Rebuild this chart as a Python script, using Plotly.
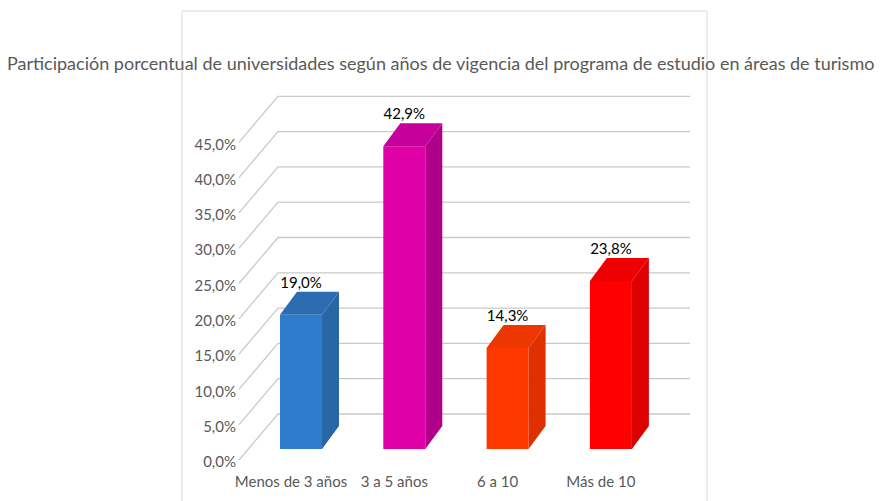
import plotly.graph_objects as go

# ---- data ----
categories = ["Menos de 3 años", "3 a 5 años", "6 a 10", "Más de 10"]
values = [19.0, 42.9, 14.3, 23.8]
tick_values = [0, 5, 10, 15, 20, 25, 30, 35, 40, 45]
front_colors = ["#2E7DCD", "#E000A8", "#FF3800", "#FF0000"]
side_colors = ["#2866A6", "#B0008A", "#DE3000", "#DC0000"]
top_colors = ["#2C6DB2", "#C6009A", "#EE3600", "#EE0000"]
title_text = ("Participación porcentual de universidades según años de vigencia "
              "del programa de estudio en áreas de turismo")

FONT = "Lato, sans-serif"

# ---- page geometry (px) ----
W, H = 880, 501
STEP_PX = 103.3      # px between category centres
PCT_PX = 7.06        # px per percentage point
X0_PX = 301          # centre of first bar
BASE_PX = 449        # bar base line
BAR_W = 42 / STEP_PX
DEPTH_X = 17 / STEP_PX
DEPTH_Y = 23 / PCT_PX
WALL_DY = (BASE_PX - 414) / PCT_PX   # back wall above bar plane
FRONT_DY = (BASE_PX - 460) / PCT_PX  # front axis below bar plane


def xpx(px):
    return (px - X0_PX) / STEP_PX


def pct_label(v):
    return f"{v:.1f}%".replace(".", ",")


x_range = [xpx(0), xpx(W)]
y_range = [-(H - BASE_PX) / PCT_PX, BASE_PX / PCT_PX]

fig = go.Figure()

# back wall grid with the slanted ticks joining the front axis
grid_shapes = []
for t in tick_values:
    grid_shapes.append(dict(
        type="path", xref="x", yref="y", layer="below",
        path=(f"M {xpx(239)},{t + FRONT_DY} L {xpx(278)},{t + WALL_DY} "
              f"L {xpx(690)},{t + WALL_DY}"),
        line=dict(color="#C9C9C9", width=1.3)))

# bar front faces
fig.add_trace(go.Bar(x=list(range(len(values))), y=values, width=BAR_W,
                     marker=dict(color=front_colors, line=dict(width=0)),
                     hoverinfo="skip", showlegend=False))

# side and top faces
for i, v in enumerate(values):
    x0, x1 = i - BAR_W / 2, i + BAR_W / 2
    fig.add_trace(go.Scatter(
        x=[x1, x1 + DEPTH_X, x1 + DEPTH_X, x1, x1],
        y=[0, DEPTH_Y, v + DEPTH_Y, v, 0],
        mode="lines", fill="toself", fillcolor=side_colors[i],
        line=dict(width=0, color=side_colors[i]),
        hoverinfo="skip", showlegend=False))
    fig.add_trace(go.Scatter(
        x=[x0, x0 + DEPTH_X, x1 + DEPTH_X, x1, x0],
        y=[v, v + DEPTH_Y, v + DEPTH_Y, v, v],
        mode="lines", fill="toself", fillcolor=top_colors[i],
        line=dict(width=0, color=top_colors[i]),
        hoverinfo="skip", showlegend=False))

# value labels
fig.add_trace(go.Scatter(
    x=list(range(len(values))), y=[v + 4.4 for v in values],
    text=[pct_label(v) for v in values],
    mode="text", textposition="middle center",
    textfont=dict(family=FONT, size=15, color="#000000"),
    hoverinfo="skip", showlegend=False))

fig.update_layout(
    width=W, height=H,
    margin=dict(l=0, r=0, t=0, b=0, autoexpand=False),
    paper_bgcolor="white", plot_bgcolor="rgba(0,0,0,0)",
    separators=",.",
    xaxis=dict(range=x_range, visible=False, fixedrange=True),
    yaxis=dict(range=y_range, visible=False, fixedrange=True),
    xaxis2=dict(overlaying="x", anchor="free", position=(H - 471) / H,
                range=[x_range[0] + 10 / STEP_PX, x_range[1] + 10 / STEP_PX],
                tickmode="array", tickvals=list(range(len(categories))),
                ticktext=categories, tickangle=0, showgrid=False,
                zeroline=False, showline=False, ticks="",
                tickfont=dict(family=FONT, size=15, color="#595959")),
    yaxis2=dict(overlaying="y", anchor="free", position=236 / W, side="left",
                range=[-(H - 462) / PCT_PX, 462 / PCT_PX],
                tickmode="array", tickvals=tick_values,
                ticktext=[pct_label(t) for t in tick_values],
                showgrid=False, zeroline=False, showline=False, ticks="",
                tickfont=dict(family=FONT, size=15, color="#595959")),
    shapes=grid_shapes + [dict(
        type="rect", xref="paper", yref="paper",
        x0=182 / W, x1=707 / W, y0=-0.1, y1=(H - 11) / H,
        line=dict(color="#D9D9D9", width=1), fillcolor="rgba(0,0,0,0)",
        layer="below")],
    annotations=[dict(text=title_text, xref="paper", yref="paper",
                      x=0.5, y=(H - 63) / H, xanchor="center", yanchor="middle",
                      showarrow=False,
                      font=dict(family=FONT, size=18, color="#595959"))],
)

# an invisible trace on the secondary axes so they are drawn
fig.add_trace(go.Scatter(x=[0], y=[0], xaxis="x2", yaxis="y2", mode="markers",
                         marker=dict(opacity=0), hoverinfo="skip",
                         showlegend=False))

fig.write_html("out.html")
